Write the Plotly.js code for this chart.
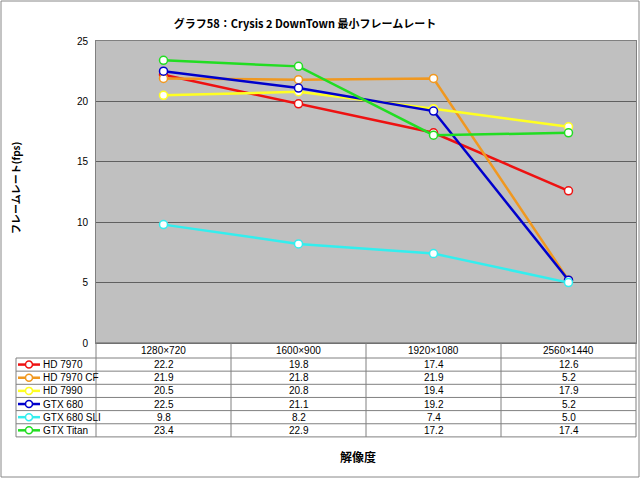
<!DOCTYPE html>
<html><head><meta charset="utf-8">
<script src="https://cdn.plot.ly/plotly-3.0.1.min.js"></script>
<style>body{margin:0;padding:0;background:#fff}#chart{width:640px;height:478px}</style>
</head><body><div id="chart"></div>
<script>
const categories = ['1280×720','1600×900','1920×1080','2560×1440'];
const seriesNames = ['HD 7970','HD 7970 CF','HD 7990','GTX 680','GTX 680 SLI','GTX Titan'];
const hd7970   = [22.2, 19.8, 17.4, 12.6];
const hd7970cf = [21.9, 21.8, 21.9, 5.2];
const hd7990   = [20.5, 20.8, 19.4, 17.9];
const gtx680   = [22.5, 21.1, 19.2, 5.2];
const gtx680sli= [9.8, 8.2, 7.4, 5.0];
const gtxTitan = [23.4, 22.9, 17.2, 17.4];
const seriesValues = [hd7970, hd7970cf, hd7990, gtx680, gtx680sli, gtxTitan];
const colors = ['#ee1111','#f09820','#ffff22','#0000cc','#33eeee','#22dd22'];
const yTicks = [0,5,10,15,20,25];

// layout geometry (pixels)
const L=96, R=636, T=41, B=343;
const px = p => (p-L)/(R-L);
const py = p => (B-p)/(B-T);
const headerTop=343, headerBot=358, rowH=13.15, tableBot=headerBot+rowH*6;
const labelLeft=16;

const traces = seriesNames.map((n,i)=>({
  type:'scatter', mode:'lines+markers', name:n, x:categories, y:seriesValues[i],
  line:{color:colors[i], width:2.5},
  marker:{symbol:'circle', size:8, color:'#ffffff', line:{color:colors[i], width:1.5}},
  showlegend:false, cliponaxis:false
}));

const shapes = [];
const annotations = [];
const lineC = '#808080';
// outer border
shapes.push({type:'rect', xref:'paper', yref:'paper', x0:px(1), x1:px(639), y0:py(477), y1:py(1), line:{color:'#888888', width:1}});
// table horizontal lines
shapes.push({type:'line', xref:'paper', yref:'paper', x0:px(L), x1:px(R), y0:py(headerTop), y1:py(headerTop), line:{color:'#606060', width:1}});
for(let r=0;r<=6;r++){
  const yy = headerBot + rowH*r;
  shapes.push({type:'line', xref:'paper', yref:'paper', x0:px(labelLeft), x1:px(R), y0:py(yy), y1:py(yy), line:{color:lineC, width:1}});
}
// vertical lines
for(let c=0;c<=categories.length;c++){
  const xx = L + (R-L)*c/categories.length;
  shapes.push({type:'line', xref:'paper', yref:'paper', x0:px(xx), x1:px(xx), y0:py(headerTop), y1:py(tableBot), line:{color:lineC, width:1}});
}
shapes.push({type:'line', xref:'paper', yref:'paper', x0:px(labelLeft), x1:px(labelLeft), y0:py(headerBot), y1:py(tableBot), line:{color:lineC, width:1}});

const tfont = {family:'Liberation Sans, Arial, sans-serif', size:10, color:'#000'};
// header
categories.forEach(c=>{
  annotations.push({x:c, xref:'x', y:py((headerTop+headerBot)/2), yref:'paper', text:c, showarrow:false, font:tfont, xanchor:'center', yanchor:'middle'});
});
// rows
seriesNames.forEach((n,i)=>{
  const yc = headerBot + rowH*(i+0.5);
  shapes.push({type:'line', xref:'paper', yref:'paper', x0:px(18), x1:px(40), y0:py(yc), y1:py(yc), line:{color:colors[i], width:2.5}});
  shapes.push({type:'circle', xref:'paper', yref:'paper', x0:px(25.5), x1:px(32.5), y0:py(yc+3.5), y1:py(yc-3.5), fillcolor:'#ffffff', line:{color:colors[i], width:1.5}});
  annotations.push({x:px(41), xref:'paper', y:py(yc), yref:'paper', text:n, showarrow:false, font:tfont, xanchor:'left', yanchor:'middle'});
  seriesValues[i].forEach((v,j)=>{
    annotations.push({x:categories[j], xref:'x', y:py(yc), yref:'paper', text:v.toFixed(1), showarrow:false, font:tfont, xanchor:'center', yanchor:'middle'});
  });
});
// axis titles
annotations.push({x:px(15), xref:'paper', y:py(188), yref:'paper', text:'<b>フレームレート(fps)</b>', textangle:-90, showarrow:false,
  font:{family:'Noto Sans CJK JP, sans-serif', size:10, color:'#000'}, xanchor:'center', yanchor:'middle'});
annotations.push({x:px(358), xref:'paper', y:py(456), yref:'paper', text:'<b>解像度</b>', showarrow:false,
  font:{family:'Noto Sans CJK JP, sans-serif', size:12, color:'#000'}, xanchor:'center', yanchor:'middle'});

const layout = {
  width:640, height:478,
  margin:{l:L, r:640-R, t:T, b:478-B, pad:0},
  paper_bgcolor:'#ffffff', plot_bgcolor:'#c0c0c0',
  title:{text:'グラフ58：Crysis 2 DownTown 最小フレームレート', x:305/640, xanchor:'center', y:1-24/478, yanchor:'middle',
    font:{family:'Noto Sans CJK JP, sans-serif', size:11, color:'#000', weight:'bold'}},
  xaxis:{type:'category', range:[-0.5,3.5], showticklabels:false, showgrid:false, zeroline:false,
    showline:true, linecolor:'#808080', mirror:true, ticks:''},
  yaxis:{range:[0,25], tickvals:yTicks, ticktext:yTicks.map(String), showgrid:true, gridcolor:'#606060', gridwidth:1,
    zeroline:false, showline:true, linecolor:'#808080', mirror:true, ticks:'', ticklen:0, ticklabelstandoff:5,
    tickfont:{family:'Liberation Sans, Arial, sans-serif', size:10, color:'#000'}},
  shapes:shapes, annotations:annotations, showlegend:false
};
Plotly.newPlot('chart', traces, layout, {displayModeBar:false, staticPlot:true});
</script></body></html>
